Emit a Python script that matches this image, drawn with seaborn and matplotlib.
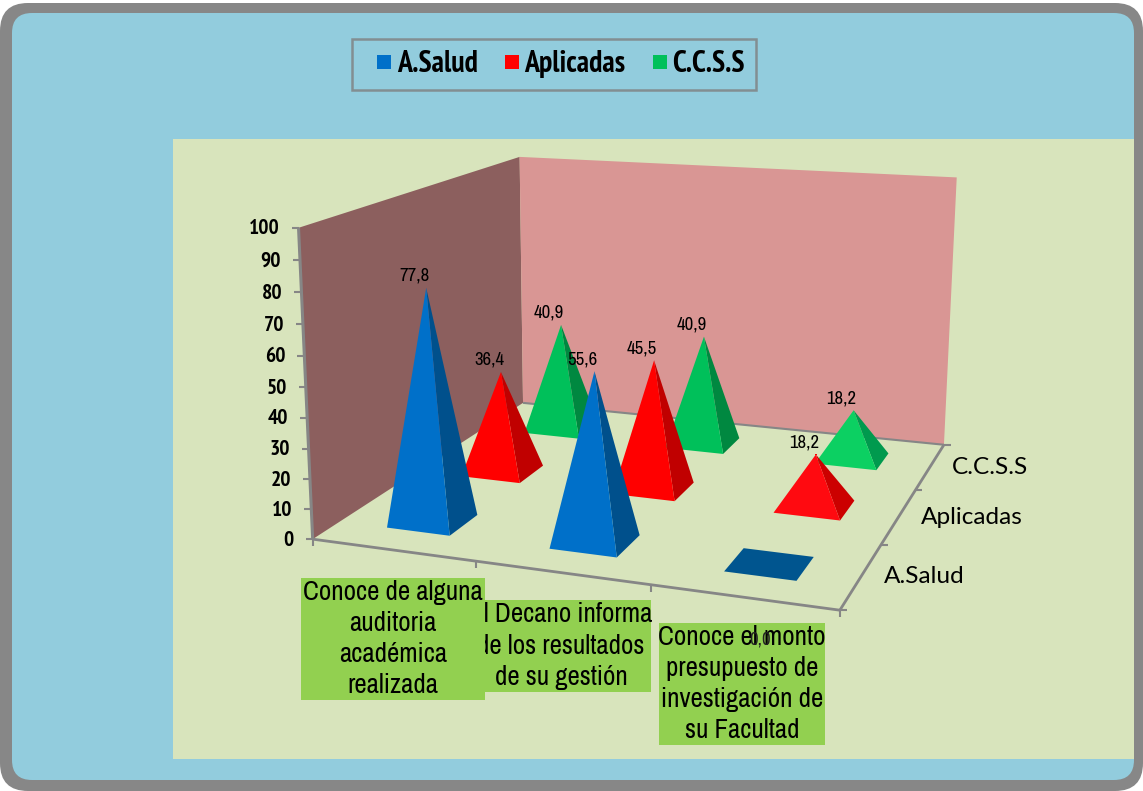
import numpy as np
import pandas as pd
import seaborn as sns
import matplotlib
matplotlib.use('Agg')
import matplotlib.pyplot as plt
from matplotlib.patches import Polygon, Rectangle, FancyBboxPatch

categories = ['Conoce de alguna\nauditoria\nacadémica\nrealizada',
              'El Decano informa\nde los resultados\nde su gestión',
              'Conoce el monto\npresupuesto de\ninvestigación de\nsu Facultad']
series = ['A.Salud', 'Aplicadas', 'C.C.S.S']
salud = [77.8, 55.6, 0.0]
aplicadas = [36.4, 45.5, 18.2]
ccss = [40.9, 40.9, 18.2]
yticks = [0, 10, 20, 30, 40, 50, 60, 70, 80, 90, 100]

front_cols = ['#0070C9', '#FF0000', '#00C05A']
side_cols = ['#00508C', '#C00000', '#008840']
front_last = ['#0070C9', '#FF0A10', '#0CD062']
side_last = ['#00558F', '#CC0000', '#009A4E']

sns.set_theme(style='white')
narrow = ['Archivo Narrow', 'Roboto Condensed', 'Liberation Sans']
narrow_bold = ['PT Sans Narrow', 'Roboto Condensed', 'Liberation Sans']
plt.rcParams['font.family'] = narrow

# camera for the fake 3d box: world (cat, serie, value) -> picture pixels
world = [(0, 0, 0), (1, 0, 0), (2, 0, 0), (3, 0, 0), (3, 1, 0), (3, 2, 0), (3, 3, 0), (0, 3, 0),
         (0, 0, 100), (0, 3, 100), (3, 3, 100)]
pixel = [(313, 538), (476, 562), (650, 588), (838, 609), (882, 544), (917, 489), (943, 445), (523, 403),
         (299, 227), (519, 157), (957, 178)]
rows = []
for (X, Y, Z), (u, v) in zip(world, pixel):
    rows.append([X, Y, Z / 100, 1, 0, 0, 0, 0, -u * X, -u * Y, -u * Z / 100, -u])
    rows.append([0, 0, 0, 0, X, Y, Z / 100, 1, -v * X, -v * Y, -v * Z / 100, -v])
cam = np.linalg.svd(np.array(rows, dtype=float))[2][-1].reshape(3, 4)


def proj(x, y, z=0):
    p = cam @ np.array([x, y, z / 100, 1.0])
    return p[0] / p[2], p[1] / p[2]


fig = plt.figure(figsize=(11.43, 7.91), dpi=100, facecolor='white')
ax = fig.add_axes([0, 0, 1, 1])
ax.set_xlim(0, 1143)
ax.set_ylim(791, 0)
ax.axis('off')

# frame and panels
ax.add_patch(FancyBboxPatch((0, 3), 1143, 788, boxstyle='round,pad=0,rounding_size=28', fc='#878787', lw=0, zorder=0))
ax.add_patch(FancyBboxPatch((12, 13), 1122, 767, boxstyle='round,pad=0,rounding_size=20', fc='#92CCDD', lw=0, zorder=0))
ax.add_patch(Rectangle((173, 139), 961, 620, fc='#D8E4BC', lw=0, zorder=0))

# apex table, drives the legend and the value labels
df = pd.DataFrame({'serie': np.repeat(series, 3),
                   'cat': list(range(3)) * 3,
                   'valor': salud + aplicadas + ccss})
df['row'] = df['serie'].map({s: i for i, s in enumerate(series)})
df['px'] = [proj(c + 0.5, r + 0.5, v)[0] for c, r, v in zip(df['cat'], df['row'], df['valor'])]
df['py'] = [proj(c + 0.5, r + 0.5, v)[1] for c, r, v in zip(df['cat'], df['row'], df['valor'])]

sns.scatterplot(data=df, x='px', y='py', hue='serie', palette=front_cols, marker='s', s=1, linewidth=0, ax=ax,
                zorder=0.5)
ax.set_xlim(0, 1143)
ax.set_ylim(791, 0)

# walls
ax.add_patch(Polygon([proj(0, 0, 0), proj(0, 3, 0), proj(0, 3, 100), proj(0, 0, 100)], fc='#8C5F5E', lw=0, zorder=1))
ax.add_patch(Polygon([proj(0, 3, 0), proj(3, 3, 0), proj(3, 3, 100), proj(0, 3, 100)], fc='#D99694', lw=0, zorder=1))

grey = '#868686'


def seg(a, b, lw=2):
    ax.plot([a[0], b[0]], [a[1], b[1]], color=grey, lw=lw, solid_capstyle='butt', zorder=1.5)


seg(proj(0, 0, 0), proj(0, 0, 100), 2.2)
seg(proj(0, 0, 0), proj(3, 0, 0), 2)
seg(proj(3, 0, 0), proj(3, 3, 0), 2)
seg(proj(0, 3, 0), proj(3, 3, 0), 1.5)
for t in yticks:
    x0, y0 = proj(0, 0, t)
    seg((x0, y0), (x0 - 7, y0), 1.5)
    ax.text(x0 - 19, y0 + 1, str(t), ha='right', va='center', fontsize=15.5, family=narrow_bold, fontweight='bold',
            color='black', zorder=6)
for i in range(4):
    x0, y0 = proj(i, 0, 0)
    seg((x0, y0), (x0, y0 + 7), 1.5)
    x0, y0 = proj(3, i, 0)
    seg((x0, y0), (x0 + 7, y0), 1.5)
for i, s in enumerate(series):
    x0, y0 = proj(3, i + 0.5, 0)
    ax.text(x0 + 22, y0 + 1, s, family='Lato', fontsize=17.6, ha='left', va='center', color='black', zorder=6)

# pyramids, back row first
hx, hy = 0.197, 0.187
for r in [2, 1, 0]:
    for c in range(3):
        v = df[(df['row'] == r) & (df['cat'] == c)]['valor'].iloc[0]
        cx, cy = c + 0.5, r + 0.5
        fl, fr = proj(cx - hx, cy - hy), proj(cx + hx, cy - hy)
        br, bl = proj(cx + hx, cy + hy), proj(cx - hx, cy + hy)
        top = proj(cx, cy, v)
        fc = front_last[r] if c == 2 else front_cols[r]
        sc = side_last[r] if c == 2 else side_cols[r]
        if v == 0:
            ax.add_patch(Polygon([fl, fr, br, bl], fc=sc, lw=0, zorder=2))
            continue
        ax.add_patch(Polygon([fr, br, top], fc=sc, lw=0, zorder=2))
        ax.add_patch(Polygon([fl, fr, top], fc=fc, lw=0, zorder=2))

# category boxes, the second one sits under the first
boxes = [(301, 578, 184, 122, 5), (471, 600, 180, 92, 3), (659, 623, 166, 122, 3)]
for cat, (bx, by, bw, bh, z) in zip(categories, boxes):
    ax.add_patch(Rectangle((bx, by), bw, bh, fc='#92D050', lw=0, zorder=z))
    ax.text(bx + bw / 2, by + bh / 2, cat, ha='center', va='center', fontsize=19.4, linespacing=1.31, color='black',
            zorder=z + 0.1)

# value labels
for _, d in df.iterrows():
    txt = f"{d['valor']:.1f}".replace('.', ',')
    if d['valor'] == 0:
        ax.text(d['px'] - 9, d['py'] + 75, txt, ha='center', va='center', fontsize=13.5, color='#222222', zorder=7)
    else:
        ax.text(d['px'] - 12, d['py'] - 12, txt, ha='center', va='center', fontsize=13.5, color='black', zorder=7)

# legend
handles, labels = ax.get_legend_handles_labels()
for h in handles:
    h.set_markersize(10.5)
    h.set_markeredgewidth(0)
leg = ax.legend(handles, labels, ncol=3, loc='center', bbox_to_anchor=(554, 64.5), bbox_transform=ax.transData,
                frameon=True, fancybox=False, edgecolor='#7F7F7F', facecolor='none', labelcolor='black',
                prop={'family': narrow_bold, 'weight': 'bold', 'size': 21.5}, handletextpad=-0.27, columnspacing=0.44,
                borderpad=0.37, borderaxespad=0, handlelength=1.4)
leg.get_frame().set_linewidth(1.8)
leg.set_zorder(8)

fig.savefig('out.png', dpi=100, facecolor='white')
